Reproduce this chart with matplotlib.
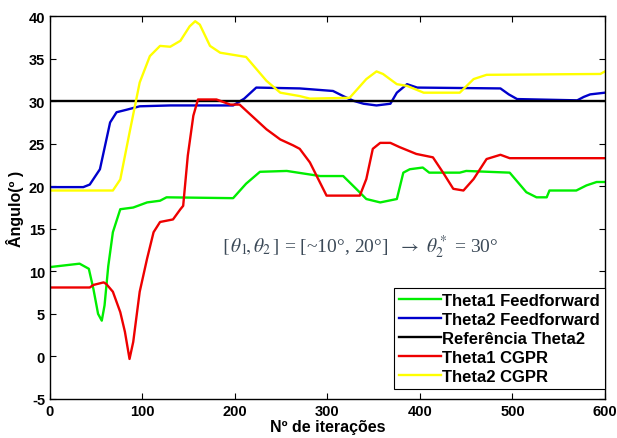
import numpy as np
import matplotlib
matplotlib.use("Agg")
import matplotlib.pyplot as plt

plt.rcParams['font.family'] = ['Liberation Sans', 'DejaVu Sans']
plt.rcParams['mathtext.fontset'] = 'stix'
plt.rcParams['axes.unicode_minus'] = False

# Theta1 Feedforward (green)
ff1_x = [0, 32, 42, 47, 52, 56, 59, 63, 68, 76, 90, 105, 119, 126, 198, 212, 227, 256,
         292, 317, 331, 342, 357, 375, 382, 389, 403, 410, 443, 450, 497, 515, 526, 537,
         540, 569, 580, 591, 600]
ff1_y = [10.5, 10.9, 10.3, 7.9, 5.0, 4.2, 6.0, 10.6, 14.6, 17.3, 17.5, 18.1, 18.3, 18.7,
         18.6, 20.3, 21.7, 21.8, 21.2, 21.2, 19.7, 18.5, 18.1, 18.5, 21.6, 22.0, 22.2, 21.6,
         21.6, 21.8, 21.6, 19.3, 18.7, 18.7, 19.5, 19.5, 20.1, 20.5, 20.5]

# Theta2 Feedforward (blue)
ff2_x = [0, 36, 43, 54, 60, 65, 72, 83, 97, 130, 198, 210, 223, 270, 306, 317, 328, 339,
         353, 368, 375, 386, 397, 487, 496, 505, 570, 577, 584, 600]
ff2_y = [19.9, 19.9, 20.2, 22.0, 25.0, 27.5, 28.7, 29.0, 29.4, 29.5, 29.5, 30.3, 31.6, 31.5,
         31.2, 30.6, 30.05, 29.7, 29.5, 29.7, 31.0, 32.0, 31.6, 31.5, 30.8, 30.25, 30.1,
         30.5, 30.8, 31.0]

# Referência Theta2
ref_x = [0, 600]
ref_y = [30, 30]

# Theta1 CGPR (red)
cg1_x = [0, 43, 47, 58, 61, 68, 76, 81, 86, 90, 97, 105, 112, 119, 133, 141, 144, 149, 155,
         160, 180, 195, 205, 216, 234, 249, 263, 270, 281, 299, 335, 342, 349, 357, 368,
         378, 396, 414, 425, 436, 447, 458, 472, 487, 497, 600]
cg1_y = [8.1, 8.1, 8.4, 8.7, 8.5, 7.6, 5.2, 2.9, -0.3, 1.7, 7.6, 11.5, 14.6, 15.8, 16.1,
         17.3, 17.7, 23.6, 28.3, 30.2, 30.2, 29.6, 29.6, 28.5, 26.7, 25.5, 24.8, 24.4, 22.8,
         18.9, 18.9, 20.85, 24.4, 25.1, 25.1, 24.6, 23.8, 23.4, 21.6, 19.7, 19.5, 20.85,
         23.2, 23.7, 23.3, 23.3]

# Theta2 CGPR (yellow)
cg2_x = [0, 68, 76, 86, 97, 108, 119, 130, 141, 151, 157, 162, 173, 184, 212, 234, 249,
         270, 281, 324, 342, 353, 360, 375, 386, 404, 443, 458, 472, 595, 600]
cg2_y = [19.5, 19.5, 20.8, 26.3, 32.2, 35.3, 36.5, 36.4, 37.1, 38.8, 39.4, 39.0, 36.5,
         35.7, 35.2, 32.4, 31.0, 30.6, 30.3, 30.4, 32.6, 33.5, 33.2, 32.0, 31.8, 31.0,
         31.0, 32.6, 33.1, 33.2, 33.5]

fig = plt.figure(figsize=(6.17, 4.39), dpi=100)
ax = fig.add_axes([0.081, 0.089, 0.8995, 0.872])

lw = 1.7
ax.plot(ff1_x, ff1_y, color='#00ee00', lw=lw, label='Theta1 Feedforward')
ax.plot(ff2_x, ff2_y, color='#0000cc', lw=lw, label='Theta2 Feedforward')
ax.plot(ref_x, ref_y, color='black', lw=lw, label='Referência Theta2')
ax.plot(cg1_x, cg1_y, color='#ee0000', lw=lw, label='Theta1 CGPR')
ax.plot(cg2_x, cg2_y, color='#ffff00', lw=lw, label='Theta2 CGPR')

ax.set_xlim(0, 600)
ax.set_ylim(-5, 40)
ax.set_xticks(np.arange(0, 601, 100))
ax.set_yticks(np.arange(-5, 41, 5))
ax.tick_params(direction='in', top=True, right=True, length=4, labelsize=10.5)
for lab in ax.get_xticklabels() + ax.get_yticklabels():
    lab.set_fontweight('bold')
for s in ax.spines.values():
    s.set_linewidth(1.0)

ax.set_xlabel('Nº de iterações', fontsize=11.5, fontweight='bold', labelpad=1)
ax.set_ylabel('Ângulo(º )', fontsize=11.5, fontweight='bold', labelpad=3)

ax.text(186, 13.0,
        r'$[\,\theta_1\!,\theta_2\,]$ = [~10°, 20°]  $\rightarrow$ $\theta_2^*$ = 30°',
        fontsize=14, family='Liberation Serif', color='#3c4a58', va='center')

leg = ax.legend(loc='lower right', bbox_to_anchor=(1.0, 0.026), handlelength=2.5,
                handletextpad=0.1, borderpad=0.3, labelspacing=0.24, fancybox=False,
                framealpha=1, edgecolor='black', borderaxespad=0,
                prop={'weight': 'bold', 'size': 12})
leg.get_frame().set_linewidth(0.8)

fig.savefig('out.png', dpi=100)
